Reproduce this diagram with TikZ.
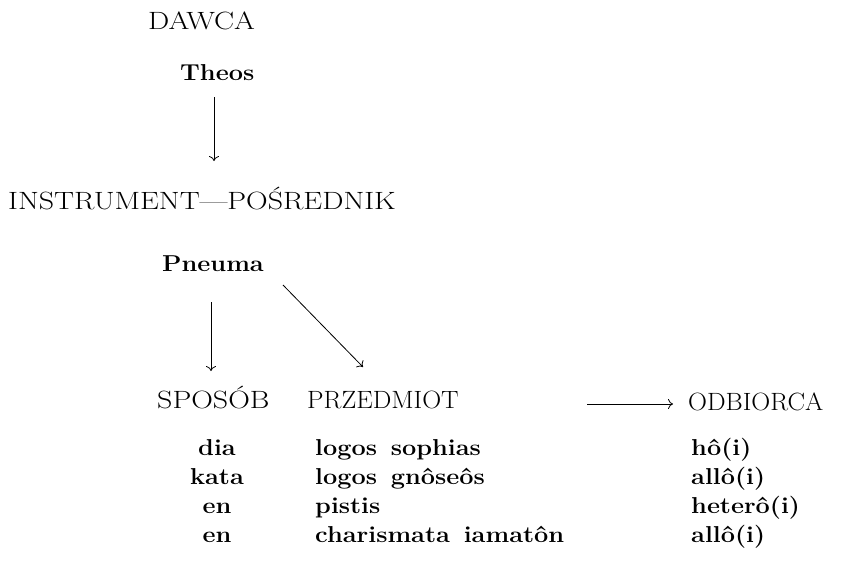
\documentclass[tikz,border=0pt]{standalone}
\usepackage{fontspec}
\setmainfont{Latin Modern Roman}
\newfontfamily\widefont[FakeStretch=1.2,Ligatures=TeX]{Latin Modern Roman}
\newfontfamily\semiwidefont[FakeStretch=1.05,Ligatures=TeX]{Latin Modern Roman}
\newfontfamily\boldwidefont[FakeStretch=1.1,Ligatures=TeX]{Latin Modern Roman}
\usetikzlibrary{arrows.meta}
\begin{document}
\begin{tikzpicture}[x=1pt,y=-1pt,
  every node/.style={inner sep=0pt,anchor=base west},
  capw/.style={font=\widefont\fontsize{25}{30}\selectfont},
  caps/.style={font=\semiwidefont\fontsize{25}{30}\selectfont},
  bf/.style={font=\boldwidefont\fontsize{23}{28}\selectfont\bfseries},
  bfc/.style={font=\boldwidefont\fontsize{23}{28}\selectfont\bfseries,anchor=base},
  conn/.style={line width=0.8pt,-{To[length=5pt,width=10pt]}}]
\useasboundingbox (0,0) rectangle (847,570);
\node[capw] (dawca) at (148,29) {DAWCA};
\node[bf] (theos) at (180,80) {Theos};
\node[capw] (instr) at (8,209) {INSTRUMENT—POŚREDNIK};
\node[bf] (pneuma) at (162,271) {Pneuma};
\node[capw] (sposob) at (157,408) {SPOSÓB};
\node[caps] (przed) at (307,408) {PRZEDMIOT};
\node[caps] (odb) at (688,410) {ODBIORCA};
% column 1
\node[bfc] (c1a) at (217,455) {dia};
\node[bfc] (c1b) at (217,484) {kata};
\node[bfc] (c1c) at (217,513) {en};
\node[bfc] (c1d) at (217,542) {en};
% column 2
\node[bf] (c2a) at (315,455) {logos\hspace{0.6em}sophias};
\node[bf] (c2b) at (315,484) {logos\hspace{0.6em}gnôseôs};
\node[bf] (c2c) at (315,513) {pistis};
\node[bf] (c2d) at (315,542) {charismata\hspace{0.6em}iamatôn};
% column 3
\node[bf] (c3a) at (691,455) {hô(i)};
\node[bf] (c3b) at (691,484) {allô(i)};
\node[bf] (c3c) at (691,513) {heterô(i)};
\node[bf] (c3d) at (691,542) {allô(i)};
% connectors
\coordinate (a1s) at (214,97);
\coordinate (a1e) at (214,161);
\coordinate (a2s) at (211,302);
\coordinate (a2e) at (211,371);
\coordinate (a3s) at (283,285);
\coordinate (a3e) at (363,367);
\coordinate (a4s) at (587,404);
\coordinate (a4e) at (673,404);
\draw[conn] (a1s) -- (a1e);
\draw[conn] (a2s) -- (a2e);
\draw[conn] (a3s) -- (a3e);
\draw[conn] (a4s) -- (a4e);
\end{tikzpicture}
\end{document}
